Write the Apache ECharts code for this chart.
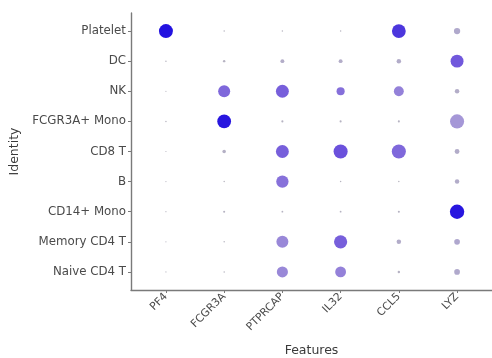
<!DOCTYPE html>
<html>
<head>
<meta charset="utf-8">
<script src="https://cdn.jsdelivr.net/npm/echarts@6/dist/echarts.min.js"></script>
<style>
  html, body { margin: 0; padding: 0; background: #ffffff; }
  #chart { width: 492px; height: 358px; }
</style>
</head>
<body>
<div id="chart"></div>
<script>
// Genes on the x axis, cell identities on the y axis (top to bottom)
const features = ['PF4', 'FCGR3A', 'PTPRCAP', 'IL32', 'CCL5', 'LYZ'];
const identities = ['Platelet', 'DC', 'NK', 'FCGR3A+ Mono', 'CD8 T', 'B',
  'CD14+ Mono', 'Memory CD4 T', 'Naive CD4 T'];

// Percent of cells expressing each gene (rows follow identities, columns follow features)
const pctPlatelet   = [93, 10, 10, 10, 92, 42];
const pctDC         = [10, 16, 26, 26, 30, 86];
const pctNK         = [ 8, 80, 86, 54, 66, 30];
const pctFCGR3AMono = [10, 92, 14, 14, 14, 94];
const pctCD8T       = [ 8, 24, 86, 94, 94, 32];
const pctB          = [ 8, 10, 82, 10, 10, 30];
const pctCD14Mono   = [ 8, 14, 12, 12, 14, 96];
const pctMemoryCD4T = [ 8, 10, 80, 88, 30, 38];
const pctNaiveCD4T  = [ 8, 10, 74, 72, 16, 38];

// Scaled average expression, same layout
const expPlatelet   = [ 2.40, -0.85, -0.85, -0.85,  1.95, -0.45];
const expDC         = [-0.85, -0.80, -0.60, -0.60, -0.55,  1.45];
const expNK         = [-0.85,  1.10,  1.30,  0.95,  0.55, -0.60];
const expFCGR3AMono = [-0.85,  2.35, -0.80, -0.80, -0.80,  0.05];
const expCD8T       = [-0.85, -0.70,  1.30,  1.60,  1.10, -0.55];
const expB          = [-0.85, -0.85,  0.90, -0.85, -0.85, -0.55];
const expCD14Mono   = [-0.85, -0.80, -0.80, -0.80, -0.80,  2.35];
const expMemoryCD4T = [-0.85, -0.85,  0.40,  1.30, -0.55, -0.40];
const expNaiveCD4T  = [-0.85, -0.85,  0.40,  0.55, -0.75, -0.45];

const pctRows = [pctPlatelet, pctDC, pctNK, pctFCGR3AMono, pctCD8T, pctB,
  pctCD14Mono, pctMemoryCD4T, pctNaiveCD4T];
const expRows = [expPlatelet, expDC, expNK, expFCGR3AMono, expCD8T, expB,
  expCD14Mono, expMemoryCD4T, expNaiveCD4T];

// Each point: [feature position, identity position, percent, expression]
const points = [];
identities.forEach((id, r) => {
  features.forEach((f, c) => {
    points.push([c + 1, r + 1, pctRows[r][c], expRows[r][c]]);
  });
});

const positionsX = features.map((_, i) => i + 1);
const positionsY = identities.map((_, i) => i + 1);

// Dot radius grows linearly with percent expressed
const maxDiameter = 15;
const sizeOf = (pct) => maxDiameter * pct / 100;

const axisColor = '#7a7a7a';
const labelColor = '#4a4a4a';
const fontFamily = 'DejaVu Sans';

const chart = echarts.init(document.getElementById('chart'), null, { renderer: 'canvas' });
chart.setOption({
  animation: false,
  backgroundColor: '#ffffff',
  grid: { left: 131, right: 0, top: 13, bottom: 68, containLabel: false, outerBoundsMode: 'none' },
  xAxis: {
    type: 'value',
    min: 0.4,
    max: 6.6,
    name: 'Features',
    nameLocation: 'middle',
    nameGap: 54,
    nameTextStyle: { color: '#3a3a3a', fontSize: 12.5, fontFamily: fontFamily },
    axisLine: { show: true, lineStyle: { color: axisColor, width: 1.4 } },
    axisTick: { show: true, length: 3, lineStyle: { color: axisColor }, customValues: positionsX },
    axisLabel: {
      customValues: positionsX,
      rotate: 45,
      margin: 5,
      color: labelColor,
      fontSize: 10.8,
      fontFamily: fontFamily,
      formatter: (v) => features[Math.round(v) - 1] || ''
    },
    splitLine: { show: false }
  },
  yAxis: {
    type: 'value',
    inverse: true,
    min: 0.4,
    max: 9.6,
    name: 'Identity',
    nameLocation: 'middle',
    nameRotate: 90,
    nameGap: 105,
    nameTextStyle: { color: '#3a3a3a', fontSize: 12.5, fontFamily: fontFamily },
    axisLine: { show: true, lineStyle: { color: axisColor, width: 1.4 } },
    axisTick: { show: true, length: 3, lineStyle: { color: axisColor }, customValues: positionsY },
    axisLabel: {
      customValues: positionsY,
      margin: 5,
      color: labelColor,
      fontSize: 11.8,
      fontFamily: fontFamily,
      formatter: (v) => identities[Math.round(v) - 1] || ''
    },
    splitLine: { show: false }
  },
  visualMap: {
    show: false,
    type: 'continuous',
    dimension: 3,
    min: -1,
    max: 2.5,
    inRange: { color: ['#b9b9bc', '#ab9fd6', '#8d78da', '#6a50dc', '#1a0ae0'] }
  },
  series: [{
    type: 'scatter',
    data: points,
    symbol: 'circle',
    symbolSize: (val) => sizeOf(val[2]),
    itemStyle: { opacity: 1 }
  }]
});
</script>
</body>
</html>
